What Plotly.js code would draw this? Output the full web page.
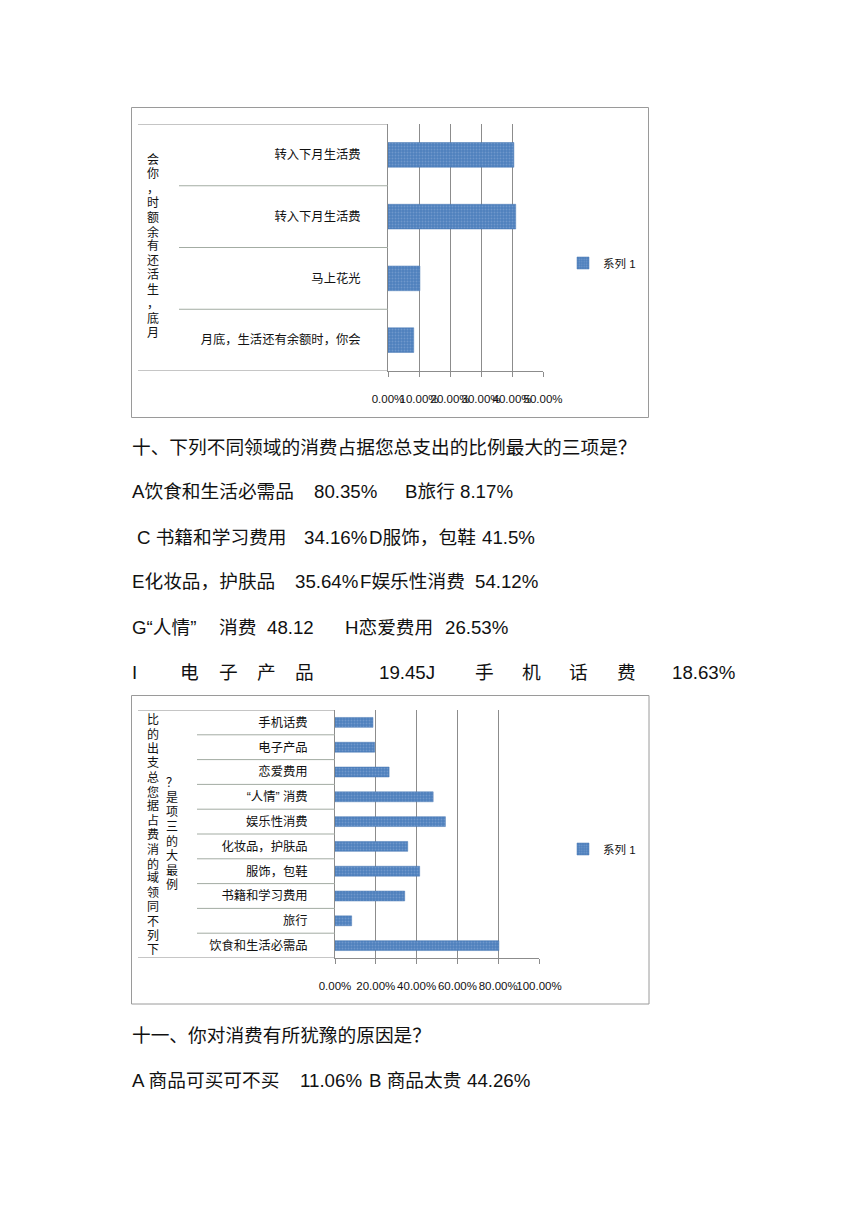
<!DOCTYPE html>
<html>
<head>
<meta charset="utf-8">
<script src="https://cdn.plot.ly/plotly-3.0.1.min.js"></script>
<style>
  body { margin: 0; background: #fff; }
  #page { width: 860px; height: 1218px; }
</style>
</head>
<body>
<div id="page"></div>
<script>
// question 9 chart (bottom -> top)
var q9Categories = ['月底，生活还有余额时，你会', '马上花光', '转入下月生活费', '转入下月生活费'];
var q9Values = [0.083, 0.103, 0.412, 0.406];
var q9GroupLabel = '会你，时额余有还活生，底月';

// question 10 chart (bottom -> top)
var q10Categories = ['饮食和生活必需品', '旅行', '书籍和学习费用', '服饰，包鞋', '化妆品，护肤品',
                     '娱乐性消费', '“人情” 消费', '恋爱费用', '电子产品', '手机话费'];
var q10Values = [0.8035, 0.0817, 0.3416, 0.415, 0.3564, 0.5412, 0.4812, 0.2653, 0.1945, 0.1863];
var q10GroupLabel1 = '比的出支总您据占费消的域领同不列下';
var q10GroupLabel2 = '？是项三的大最例';

var seriesName = '系列 1';

// body text
var q10Title = '十、下列不同领域的消费占据您总支出的比例最大的三项是？';
var q10Lines = [
  ['A饮食和生活必需品', '80.35%', 'B旅行 8.17%'],
  ['C 书籍和学习费用', '34.16%', 'D服饰，包鞋', '41.5%'],
  ['E化妆品，护肤品', '35.64%', 'F娱乐性消费', '54.12%'],
  ['G“人情”', '消费', '48.12', 'H恋爱费用', '26.53%'],
  ['I', '电', '子', '产', '品', '19.45J', '手', '机', '话', '费', '18.63%']
];
var q11Title = '十一、你对消费有所犹豫的原因是？';
var q11Lines = [
  ['A 商品可买可不买', '11.06%', 'B 商品太贵', '44.26%']
];

// layout positions (px on the page)
var PAGE_W = 860, PAGE_H = 1218;
function px(x) { return x / PAGE_W; }
function py(y) { return 1 - y / PAGE_H; }

var q10LineX = [
  [130, 312, 403],
  [135, 302, 367, 480],
  [130, 293, 358, 473],
  [130, 217, 265, 343, 443],
  [130, 178, 217, 255, 293, 377, 473, 520, 567, 615, 670]
];
var q10LineY = [492, 537, 581, 627, 672];
var q11LineX = [[130, 298, 367, 465]];
var q11LineY = [1080];

var FONT = 'Liberation Sans, Arial, Noto Sans CJK SC, sans-serif';
var BAR_COLOR = '#4f81bd';
var GRID = '#8c8c8c';
var SEP = '#a3aca3';

var annotations = [];
function addText(str, x, y, size, anchor) {
  annotations.push({
    xref: 'paper', yref: 'paper', x: px(x), y: py(y),
    xanchor: anchor || 'left', yanchor: 'middle',
    text: str, showarrow: false,
    font: {family: FONT, size: size, color: '#111'}
  });
}
function addVertical(str, x, yStart, step) {
  var chars = Array.from(str);
  for (var i = 0; i < chars.length; i++) {
    addText(chars[i], x, yStart + i * step, 12, 'center');
  }
}

addText(q10Title, 130, 447, 18.7);
for (var i = 0; i < q10Lines.length; i++) {
  for (var j = 0; j < q10Lines[i].length; j++) {
    addText(q10Lines[i][j], q10LineX[i][j], q10LineY[i], 18.7);
  }
}
addText(q11Title, 130, 1035, 18.7);
for (var i = 0; i < q11Lines.length; i++) {
  for (var j = 0; j < q11Lines[i].length; j++) {
    addText(q11Lines[i][j], q11LineX[i][j], q11LineY[i], 18.7);
  }
}

addVertical(q9GroupLabel, 153, 160, 14.4);
addVertical(q10GroupLabel1, 153, 720, 14.4);
addVertical(q10GroupLabel2, 172, 783, 14.6);

var shapes = [];
// chart frames
shapes.push({type: 'rect', xref: 'paper', yref: 'paper',
  x0: px(131.5), x1: px(648.5), y0: py(107.5), y1: py(417.5),
  line: {color: '#9a9a9a', width: 1}});
shapes.push({type: 'rect', xref: 'paper', yref: 'paper',
  x0: px(131.5), x1: px(649), y0: py(695.5), y1: py(1004),
  line: {color: '#9a9a9a', width: 1}});

// category separators in the label area
function addSeparators(yref, n, leftOuter, leftInner, right) {
  for (var k = 0; k <= n; k++) {
    var outer = (k === 0 || k === n);
    shapes.push({type: 'line', xref: 'paper', yref: yref,
      x0: px(outer ? leftOuter : leftInner), x1: px(right),
      y0: k - 0.5, y1: k - 0.5,
      line: {color: outer ? GRID : SEP, width: 1}});
  }
}
addSeparators('y', q9Categories.length, 138, 179, 388);
addSeparators('y2', q10Categories.length, 138, 197, 335);

var barMarker = {
  color: BAR_COLOR,
  line: {color: '#4677b3', width: 0.5},
  pattern: {shape: '.', bgcolor: BAR_COLOR, fgcolor: '#6f97cb', size: 3, solidity: 0.3}
};

var trace1 = {
  type: 'bar', orientation: 'h',
  x: q9Values, y: q9Categories.map(function (c, i) { return i; }),
  width: 0.4, name: seriesName, marker: barMarker,
  xaxis: 'x', yaxis: 'y', legend: 'legend'
};
var trace2 = {
  type: 'bar', orientation: 'h',
  x: q10Values, y: q10Categories.map(function (c, i) { return i; }),
  width: 0.4, name: seriesName, marker: barMarker,
  xaxis: 'x2', yaxis: 'y2', legend: 'legend2'
};

function xAxis(domain, maxVal, step, anchor) {
  return {
    domain: domain, range: [0, maxVal], dtick: step, tick0: 0,
    tickformat: '.2%', tickangle: 0, anchor: anchor,
    showgrid: true, gridcolor: GRID, gridwidth: 1, zeroline: false,
    showline: true, linecolor: GRID, linewidth: 1,
    ticks: 'outside', ticklen: 5, tickcolor: GRID,
    ticklabelstandoff: 12,
    tickfont: {family: FONT, size: 11.5, color: '#111'},
    fixedrange: true
  };
}
function yAxis(domain, labels, anchor) {
  return {
    domain: domain, range: [-0.5, labels.length - 0.5], anchor: anchor,
    tickmode: 'array',
    tickvals: labels.map(function (c, i) { return i; }),
    ticktext: labels,
    showgrid: false, zeroline: false,
    showline: true, linecolor: GRID, linewidth: 1,
    ticks: '', ticklabelstandoff: 24,
    tickfont: {family: FONT, size: 12.3, color: '#111'},
    fixedrange: true
  };
}

var layout = {
  width: PAGE_W, height: PAGE_H,
  margin: {l: 0, r: 0, t: 0, b: 0},
  paper_bgcolor: '#fff', plot_bgcolor: 'rgba(0,0,0,0)',
  showlegend: true,
  xaxis: xAxis([px(388), px(543)], 0.5, 0.1, 'y'),
  yaxis: yAxis([py(371), py(124)], q9Categories, 'x'),
  xaxis2: xAxis([px(335), px(539)], 1, 0.2, 'y2'),
  yaxis2: yAxis([py(958), py(710)], q10Categories, 'x2'),
  legend: {x: px(563), y: py(263), xanchor: 'left', yanchor: 'middle',
    bgcolor: 'rgba(0,0,0,0)', font: {family: FONT, size: 11.5, color: '#111'}},
  legend2: {x: px(563), y: py(849), xanchor: 'left', yanchor: 'middle',
    bgcolor: 'rgba(0,0,0,0)', font: {family: FONT, size: 11.5, color: '#111'}},
  annotations: annotations,
  shapes: shapes
};

Plotly.newPlot('page', [trace1, trace2], layout, {staticPlot: true, displayModeBar: false});
</script>
</body>
</html>
